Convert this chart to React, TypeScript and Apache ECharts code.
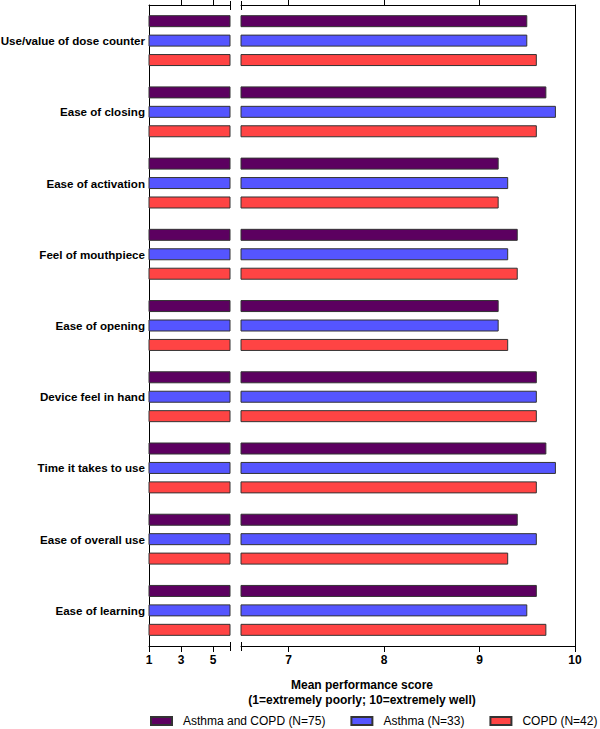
import React, { useEffect, useRef } from "react";
import * as echarts from "echarts";

const categories = [
  "Use/value of dose counter",
  "Ease of closing",
  "Ease of activation",
  "Feel of mouthpiece",
  "Ease of opening",
  "Device feel in hand",
  "Time it takes to use",
  "Ease of overall use",
  "Ease of learning",
];

const seriesNames = ["Asthma and COPD (N=75)", "Asthma (N=33)", "COPD (N=42)"];
const bothValues = [9.5, 9.7, 9.2, 9.4, 9.2, 9.6, 9.7, 9.4, 9.6];
const asthmaValues = [9.5, 9.8, 9.3, 9.3, 9.2, 9.6, 9.8, 9.6, 9.5];
const copdValues = [9.6, 9.6, 9.2, 9.4, 9.3, 9.6, 9.6, 9.3, 9.7];
const seriesColors = ["#5c0060", "#5555ff", "#ff4444"];

const leftTicks = [1, 3, 5];
const rightTicks = [7, 8, 9, 10];
const xTitle = "Mean performance score\n(1=extremely poorly; 10=extremely well)";

const FONT = "'Liberation Sans', Arial, Helvetica, sans-serif";

export default function App() {
  const ref = useRef<HTMLDivElement>(null);
  useEffect(() => {
    if (!ref.current) return;
    const chart = echarts.init(ref.current, undefined, { renderer: "svg" });
    const values = [bothValues, asthmaValues, copdValues];
    const axisLine = { show: true, lineStyle: { color: "#000", width: 1 } };
    const labelStyle = { color: "#000", fontWeight: "bold" as const, fontSize: 12, fontFamily: FONT };

    const xBase = (gridIndex: number, min: number, max: number) => ({
      type: "value" as const,
      gridIndex,
      min,
      max,
      splitLine: { show: false },
      axisLine,
    });

    const series: any[] = [];
    values.forEach((vals, i) => {
      [0, 1].forEach((seg) => {
        series.push({
          type: "bar",
          name: seriesNames[i],
          xAxisIndex: seg === 0 ? 0 : 2,
          yAxisIndex: seg,
          data: vals,
          barWidth: 12,
          barGap: "62%",
          clip: true,
          itemStyle: { color: seriesColors[i], borderColor: "#333", borderWidth: 1 },
          emphasis: { disabled: true },
        });
      });
    });

    chart.setOption({
      animation: false,
      textStyle: { fontFamily: FONT },
      grid: [
        { left: 149, width: 81, top: 5, height: 641, containLabel: false, outerBoundsMode: "none" },
        { left: 241, width: 334, top: 5, height: 641, containLabel: false, outerBoundsMode: "none" },
      ],
      xAxis: [
        {
          ...xBase(0, 1, 6.06),
          position: "bottom",
          axisTick: { show: true, length: 6, customValues: leftTicks, lineStyle: { color: "#000" } },
          axisLabel: { ...labelStyle, margin: 8, customValues: leftTicks },
        },
        {
          ...xBase(0, 1, 6.06),
          position: "top",
          axisTick: { show: true, length: 5, customValues: leftTicks.slice(1), lineStyle: { color: "#000" } },
          axisLabel: { show: false },
        },
        {
          ...xBase(1, 6.5, 10),
          position: "bottom",
          axisTick: { show: true, length: 6, customValues: rightTicks, lineStyle: { color: "#000" } },
          axisLabel: { ...labelStyle, margin: 8, customValues: rightTicks },
        },
        {
          ...xBase(1, 6.5, 10),
          position: "top",
          axisTick: { show: true, length: 5, customValues: rightTicks.slice(0, 3), lineStyle: { color: "#000" } },
          axisLabel: { show: false },
        },
      ],
      yAxis: [
        {
          type: "category",
          gridIndex: 0,
          data: categories,
          inverse: true,
          position: "left",
          axisLine,
          axisTick: { show: false },
          axisLabel: { ...labelStyle, fontSize: 11.6, margin: 4 },
        },
        {
          type: "category",
          gridIndex: 1,
          data: categories,
          inverse: true,
          position: "right",
          axisLine,
          axisTick: { show: false },
          axisLabel: { show: false },
        },
      ],
      legend: {
        data: seriesNames,
        left: 150,
        top: 715,
        width: 450,
        padding: 0,
        icon: "rect",
        itemWidth: 21,
        itemHeight: 8,
        itemGap: 25,
        selectedMode: false,
        textStyle: { color: "#000", fontSize: 12, fontFamily: FONT, padding: [0, 0, 0, 6] },
      },
      graphic: [
        { type: "line", shape: { x1: 230.5, y1: 1, x2: 230.5, y2: 10 }, style: { stroke: "#000", lineWidth: 1 } },
        { type: "line", shape: { x1: 241.5, y1: 1, x2: 241.5, y2: 10 }, style: { stroke: "#000", lineWidth: 1 } },
        { type: "line", shape: { x1: 230.5, y1: 642, x2: 230.5, y2: 651 }, style: { stroke: "#000", lineWidth: 1 } },
        { type: "line", shape: { x1: 241.5, y1: 642, x2: 241.5, y2: 651 }, style: { stroke: "#000", lineWidth: 1 } },
        {
          type: "text",
          x: 362,
          y: 677,
          style: {
            text: xTitle,
            fill: "#000",
            font: `bold 12px ${FONT}`,
            align: "center",
            verticalAlign: "top",
            lineHeight: 15,
          },
        },
      ],
      series,
    });
    return () => chart.dispose();
  }, []);
  return (
    <div
      ref={ref}
      style={{ position: "fixed", left: 0, top: 0, width: 600, height: 729, background: "#fff" }}
    />
  );
}
